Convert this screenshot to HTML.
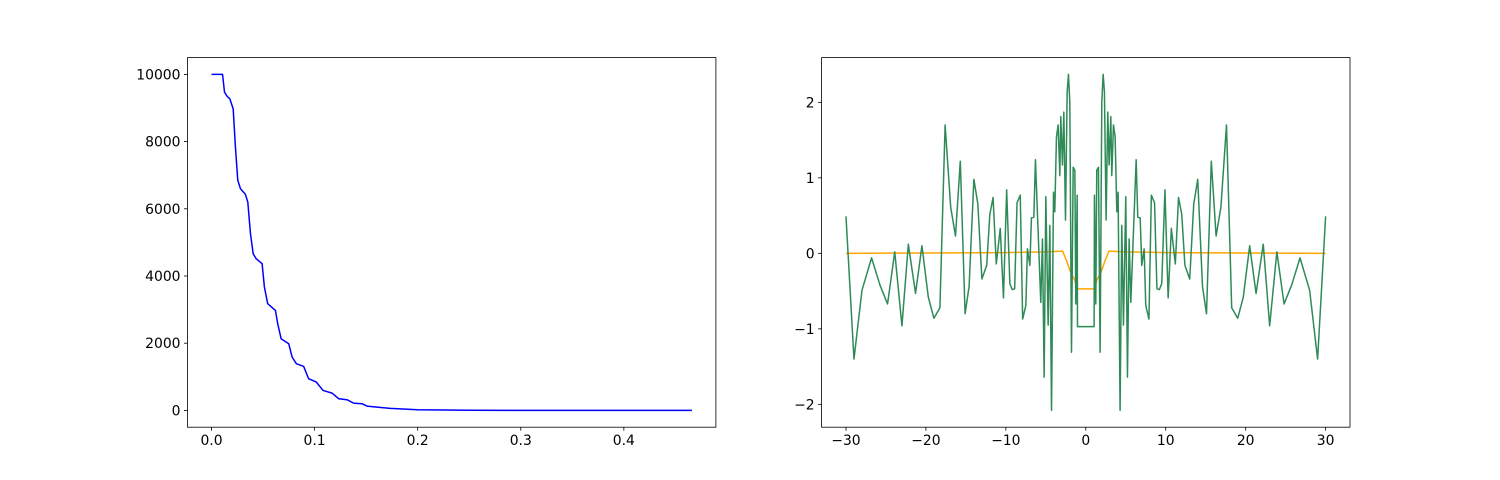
<!DOCTYPE html>
<html><head><meta charset="utf-8"><style>
html,body{margin:0;padding:0;background:#fff;}
svg{display:block;font-family:"DejaVu Sans","Liberation Sans",sans-serif;}
</style></head><body>
<svg id="fig" width="1500" height="480" viewBox="0 0 1500 480" xmlns="http://www.w3.org/2000/svg">
<rect x="0" y="0" width="1500" height="480" fill="#fff"/>
<g id="left"></g>
<g id="right"></g>
</svg>
<script>
// Left chart data
const leftX = [0,0.0107,0.0126,0.0152,0.0177,0.021,0.0232,0.0255,0.0281,0.0329,0.0352,0.0378,0.0404,0.0433,0.0491,0.0513,0.0545,0.062,0.0642,0.0675,0.0749,0.0782,0.0823,0.0894,0.0942,0.1017,0.1082,0.1169,0.1233,0.1314,0.1378,0.146,0.1508,0.1605,0.1734,0.2,0.25,0.3,0.466];
const leftY = [10000,10000,9473,9345,9277,8979,7836,6845,6598,6428,6199,5259,4663,4515,4366,3669,3175,2976,2580,2134,1985,1586,1390,1309,943,842,595,515,348,318,217,199,128,98,60,20,5,1,0];
const leftXTicks = [0,0.1,0.2,0.3,0.4];
const leftXLabels = ["0.0","0.1","0.2","0.3","0.4"];
const leftYTicks = [0,2000,4000,6000,8000,10000];
// Right chart data
const greenX = [-30,-29,-28,-26.8,-25.75,-24.8,-23.9,-23,-22.2,-21.3,-20.5,-19.7,-19,-18.25,-17.6,-16.9,-16.3,-15.7,-15.1,-14.6,-14,-13.5,-13,-12.4,-12,-11.6,-11.2,-10.7,-10.3,-9.9,-9.5,-9.2,-8.9,-8.6,-8.2,-7.9,-7.5,-7.3,-7,-6.8,-6.5,-6.3,-5.83,-5.63,-5.42,-5.21,-5,-4.71,-4.5,-4.29,-4.04,-3.88,-3.67,-3.46,-3.25,-3.13,-2.92,-2.75,-2.54,-2.33,-2.17,-2,-1.79,-1.58,-1.37,-1.25,-1.08,-1.04,0,1.04,1.08,1.25,1.37,1.58,1.79,2,2.17,2.33,2.54,2.75,2.92,3.13,3.25,3.46,3.67,3.88,4.04,4.29,4.5,4.71,5,5.21,5.42,5.63,5.83,6.3,6.5,6.8,7,7.3,7.5,7.9,8.2,8.6,8.9,9.2,9.5,9.9,10.3,10.7,11.2,11.6,12,12.4,13,13.5,14,14.6,15.1,15.7,16.3,16.9,17.6,18.25,19,19.7,20.5,21.3,22.2,23,23.9,24.8,25.75,26.8,28,29,30];
const greenY = [0.49,-1.40,-0.49,-0.06,-0.42,-0.67,0.02,-0.96,0.12,-0.53,0.10,-0.58,-0.86,-0.72,1.70,0.61,0.23,1.22,-0.80,-0.44,0.98,0.65,-0.34,-0.16,0.52,0.74,-0.14,0.33,-0.59,0.84,-0.40,-0.48,-0.47,0.67,0.77,-0.87,-0.69,0.06,-0.16,0.47,0.48,1.24,-0.09,-0.65,0.19,-1.64,0.75,-0.95,0.37,-2.08,0.81,0.55,1.54,1.70,1.03,1.81,1.17,1.87,0.44,2.14,2.37,2.0,-1.31,1.14,1.10,-0.67,0.77,-0.97,-0.97,-0.97,0.77,-0.67,1.10,1.14,-1.31,2.0,2.37,2.14,0.44,1.87,1.17,1.81,1.03,1.70,1.54,0.55,0.81,-2.08,0.37,-0.95,0.75,-1.64,0.19,-0.65,-0.09,1.24,0.48,0.47,-0.16,0.06,-0.69,-0.87,0.77,0.67,-0.47,-0.48,-0.40,0.84,-0.59,0.33,-0.14,0.74,0.52,-0.16,-0.34,0.65,0.98,-0.44,-0.80,1.22,0.23,0.61,1.70,-0.72,-0.86,-0.58,0.10,-0.53,0.12,-0.96,0.02,-0.67,-0.42,-0.06,-0.49,-1.40,0.49];
const orangeX = [-30,-20,-10,-5,-2.9,-2.4,-1.9,-1.4,-1.1,1.1,1.4,1.9,2.4,2.9,5,10,20,30];
const orangeY = [0,0.005,0.01,0.02,0.03,-0.1,-0.25,-0.35,-0.47,-0.47,-0.35,-0.25,-0.1,0.03,0.02,0.01,0.005,0];
const rightXTicks = [-30,-20,-10,0,10,20,30];
const rightYTicks = [-2,-1,0,1,2];

const NS = "http://www.w3.org/2000/svg";
function mk(tag, attrs, parent){const e=document.createElementNS(NS,tag);for(const k in attrs)e.setAttribute(k,attrs[k]);parent.appendChild(e);return e;}

function drawAxes(g, box, xlim, ylim, xt, xl, yt, yl, prefix){
  const sx=v=>box.x0+(v-xlim[0])/(xlim[1]-xlim[0])*(box.x1-box.x0);
  const sy=v=>box.y1-(v-ylim[0])/(ylim[1]-ylim[0])*(box.y1-box.y0);
  xt.forEach((t,i)=>{
    const x=sx(t);
    const l=mk("line",{x1:x,x2:x,y1:box.y1,y2:box.y1+3.5,stroke:"#000","stroke-width":0.8},g);
    
    
    const tx=mk("text",{x:x,y:box.y1+18,"text-anchor":"middle","font-size":"13.9px",fill:"#000"},g);
    tx.textContent=xl[i];
    
    
  });
  yt.forEach((t,i)=>{
    const y=sy(t);
    const l=mk("line",{x1:box.x0-3.5,x2:box.x0,y1:y,y2:y,stroke:"#000","stroke-width":0.8},g);
    
    
    const tx=mk("text",{x:box.x0-7,y:y+5,"text-anchor":"end","font-size":"13.9px",fill:"#000"},g);
    tx.textContent=yl[i];
    
    
  });
  return {sx,sy};
}
function drawLine(g, xs, ys, sx, sy, color, name){
  const pts=xs.map((x,i)=>sx(x).toFixed(2)+","+sy(ys[i]).toFixed(2)).join(" ");
  const p=mk("polyline",{points:pts,fill:"none",stroke:color,"stroke-width":1.5,"stroke-linejoin":"round"},g);
  
  
}
function frame(g, box, prefix){
  const r=mk("rect",{x:box.x0,y:box.y0,width:box.x1-box.x0,height:box.y1-box.y0,fill:"none",stroke:"#000","stroke-width":0.8},g);
  
  
}

// Left
const gL=document.getElementById("left");
const boxL={x0:187.5,x1:715.9,y0:57.6,y1:427.2};
const aL=drawAxes(gL,boxL,[-0.0233,0.4893],[-500,10500],leftXTicks,leftXLabels,leftYTicks,leftYTicks.map(String),"left");
drawLine(gL,leftX,leftY,aL.sx,aL.sy,"#0000ff","decay-line");
frame(gL,boxL,"left");

// Right
const gR=document.getElementById("right");
const boxR={x0:821.6,x1:1350,y0:57.6,y1:427.2};
const aR=drawAxes(gR,boxR,[-33.05,33.05],[-2.3025,2.5925],rightXTicks,rightXTicks.map(v=>v<0?"\u2212"+(-v):String(v)),rightYTicks,rightYTicks.map(v=>v<0?"\u2212"+(-v):String(v)),"right");
drawLine(gR,orangeX,orangeY,aR.sx,aR.sy,"#ffa500","orange-line");
drawLine(gR,greenX,greenY,aR.sx,aR.sy,"#2e8b57","green-line");
frame(gR,boxR,"right");
</script>
</body></html>
